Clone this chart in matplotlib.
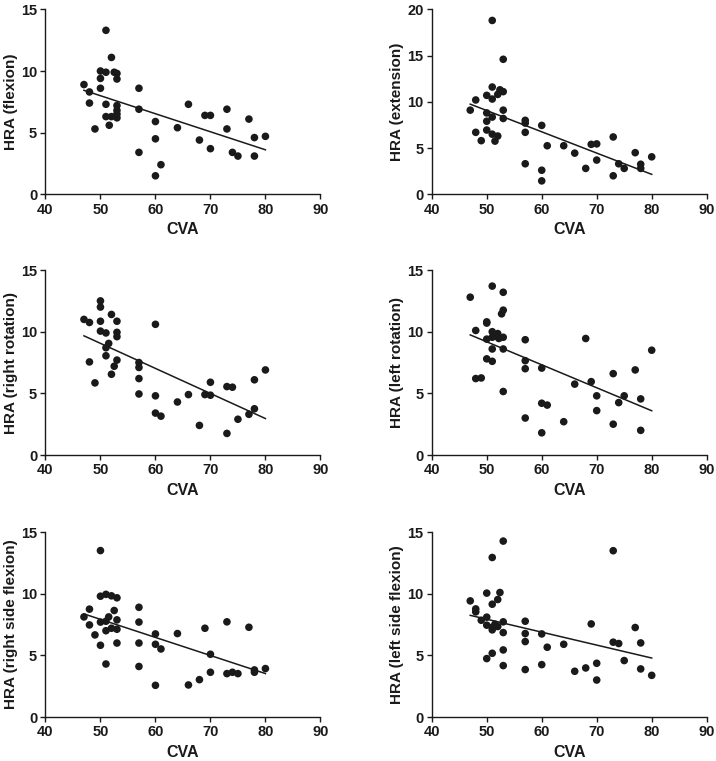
import numpy as np
import matplotlib
matplotlib.use("Agg")
import matplotlib.pyplot as plt

plt.rcParams["font.family"] = ["Liberation Sans", "DejaVu Sans"]
plt.rcParams["font.weight"] = "bold"

# CVA / HRA pairs
flex_x = [51, 52, 50, 51, 52.5, 53, 50, 53, 47, 50, 48, 57, 48, 51, 53, 53, 53, 57,
          51, 52, 53, 51.6, 49, 66, 69, 70, 73, 77, 60, 64, 73, 60, 68, 78, 80, 70,
          74, 75, 78, 57, 61, 60]
flex_y = [13.3, 11.1, 10.0, 9.9, 9.9, 9.8, 9.4, 9.35, 8.9, 8.6, 8.3, 8.6, 7.4, 7.3,
          7.2, 6.8, 6.5, 6.9, 6.3, 6.3, 6.2, 5.6, 5.3, 7.3, 6.4, 6.4, 6.9, 6.1, 5.9,
          5.4, 5.3, 4.5, 4.4, 4.6, 4.7, 3.7, 3.4, 3.1, 3.1, 3.4, 2.4, 1.5]

ext_x = [51, 53, 51, 52.4, 53, 52, 50, 48, 51, 53, 47, 50, 51, 53, 50, 57, 57, 60,
         48, 50, 57, 51, 52, 49, 51.5, 61, 64, 66, 69, 70, 73, 77, 80, 70, 57, 68,
         74, 75, 78, 78, 73, 60, 60]
ext_y = [18.8, 14.6, 11.6, 11.3, 11.1, 10.8, 10.7, 10.2, 10.3, 9.1, 9.1, 8.8, 8.35,
         8.2, 7.9, 8.0, 7.7, 7.45, 6.7, 6.95, 6.7, 6.5, 6.3, 5.8, 5.75, 5.25, 5.25,
         4.45, 5.4, 5.45, 6.2, 4.5, 4.05, 3.7, 3.3, 2.8, 3.3, 2.8, 3.25, 2.8, 2.0,
         2.6, 1.45]

rrot_x = [50, 50, 52, 47, 48, 50, 53, 60, 50, 51, 53, 53, 51.5, 51, 51, 48, 53, 57,
          57, 52.5, 52, 57, 49, 57, 60, 64, 66, 69, 70, 70, 73, 74, 78, 80, 60, 61,
          78, 77, 75, 68, 73]
rrot_y = [12.5, 12.0, 11.4, 11.0, 10.75, 10.85, 10.85, 10.6, 10.05, 9.9, 9.95, 9.6,
          9.05, 8.7, 8.05, 7.55, 7.7, 7.5, 7.1, 7.2, 6.55, 6.2, 5.85, 4.95, 4.8, 4.3,
          4.9, 4.9, 4.85, 5.9, 5.55, 5.5, 6.1, 6.9, 3.4, 3.15, 3.75, 3.3, 2.9, 2.4,
          1.75]

lrot_x = [51, 53, 47, 53, 52.7, 50, 50, 48, 51, 52, 51.7, 52.2, 53, 50, 51, 57, 68,
          51, 53, 80, 50, 51, 57, 57, 60, 77, 73, 48, 49, 69, 66, 53, 70, 75, 78, 74,
          60, 61, 70, 57, 64, 73, 78, 60]
lrot_y = [13.7, 13.2, 12.8, 11.75, 11.45, 10.8, 10.7, 10.1, 10.0, 9.85, 9.65, 9.45,
          9.55, 9.4, 9.55, 9.35, 9.45, 8.6, 8.6, 8.5, 7.8, 7.6, 7.65, 7.0, 7.05, 6.9,
          6.6, 6.2, 6.25, 5.95, 5.75, 5.15, 4.8, 4.8, 4.55, 4.25, 4.2, 4.05, 3.6,
          3.0, 2.7, 2.5, 2.0, 1.8]

rsf_x = [50, 50, 51, 52, 53, 48, 52.5, 57, 47, 51.5, 50, 51, 53, 57, 48, 51, 52, 53,
         49, 50, 53, 57, 60, 60, 61, 64, 69, 73, 77, 70, 78, 78, 80, 70, 73, 74, 75,
         68, 66, 60, 51, 57]
rsf_y = [13.5, 9.8, 9.95, 9.83, 9.67, 8.75, 8.64, 8.9, 8.12, 8.12, 7.7, 7.77, 7.88,
         7.7, 7.47, 7.0, 7.2, 7.12, 6.66, 5.82, 6.0, 6.0, 6.74, 5.9, 5.52, 6.77, 7.2,
         7.72, 7.28, 5.09, 3.82, 3.63, 3.93, 3.63, 3.52, 3.63, 3.52, 3.03, 2.6, 2.57,
         4.3, 4.1]

lsf_x = [53, 51, 73, 50, 52.4, 47, 52, 51, 48, 48, 50, 49, 50, 51, 51.5, 52, 51, 53,
         53, 57, 57, 57, 60, 69, 77, 61, 64, 73, 74, 78, 53, 51, 50, 53, 60, 75, 70,
         57, 66, 68, 78, 80, 70]
lsf_y = [14.27, 12.94, 13.49, 10.05, 10.1, 9.42, 9.53, 9.15, 8.77, 8.53, 8.1, 7.85,
         7.45, 7.28, 7.53, 7.34, 7.07, 7.72, 6.85, 7.77, 6.77, 6.12, 6.74, 7.55, 7.26,
         5.66, 5.9, 6.07, 5.96, 6.01, 5.44, 5.17, 4.74, 4.17, 4.25, 4.58, 4.36, 3.85,
         3.71, 3.98, 3.9, 3.38, 3.0]

panels = [
    (flex_x, flex_y, "HRA (flexion)", 15, [0, 5, 10, 15]),
    (ext_x, ext_y, "HRA (extension)", 20, [0, 5, 10, 15, 20]),
    (rrot_x, rrot_y, "HRA (right rotation)", 15, [0, 5, 10, 15]),
    (lrot_x, lrot_y, "HRA (left rotation)", 15, [0, 5, 10, 15]),
    (rsf_x, rsf_y, "HRA (right side flexion)", 15, [0, 5, 10, 15]),
    (lsf_x, lsf_y, "HRA (left side flexion)", 15, [0, 5, 10, 15]),
]

_INK = "#1a1a1a"

fig = plt.figure(figsize=(7.16, 7.61), dpi=100)
lefts = [0.0635, 0.603]
bottoms = [0.7447, 0.4021, 0.0578]
w, h = 0.384, 0.243

for i, (xs, ys, ylabel, ymax, yticks) in enumerate(panels):
    row, col = divmod(i, 2)
    ax = fig.add_axes([lefts[col], bottoms[row], w, h])
    xs = np.asarray(xs, dtype=float)
    ys = np.asarray(ys, dtype=float)
    ax.scatter(xs, ys, s=30, color=_INK, edgecolors="none", zorder=3)

    # least-squares line over the data range
    slope, icpt = np.polyfit(xs, ys, 1)
    xl = np.array([xs.min(), xs.max()])
    ax.plot(xl, slope * xl + icpt, color=_INK, linewidth=1.1, zorder=2)

    ax.set_xlim(40, 90)
    ax.set_ylim(0, ymax)
    ax.set_xticks([40, 50, 60, 70, 80, 90])
    ax.set_yticks(yticks)
    for side in ("top", "right"):
        ax.spines[side].set_visible(False)
    for side in ("left", "bottom"):
        ax.spines[side].set_linewidth(1.0)
        ax.spines[side].set_color(_INK)
    ax.tick_params(direction="out", length=3.5, width=1.0, colors=_INK,
                   labelsize=10.5, pad=2.5)
    for lbl in ax.get_xticklabels() + ax.get_yticklabels():
        lbl.set_fontweight("bold")
    ax.set_xlabel("CVA", fontsize=11.5, fontweight="bold", color=_INK, labelpad=4)
    ax.set_ylabel(ylabel, fontsize=11, fontweight="bold", color=_INK, labelpad=2)

fig.savefig("out.png", dpi=100, facecolor="white")
